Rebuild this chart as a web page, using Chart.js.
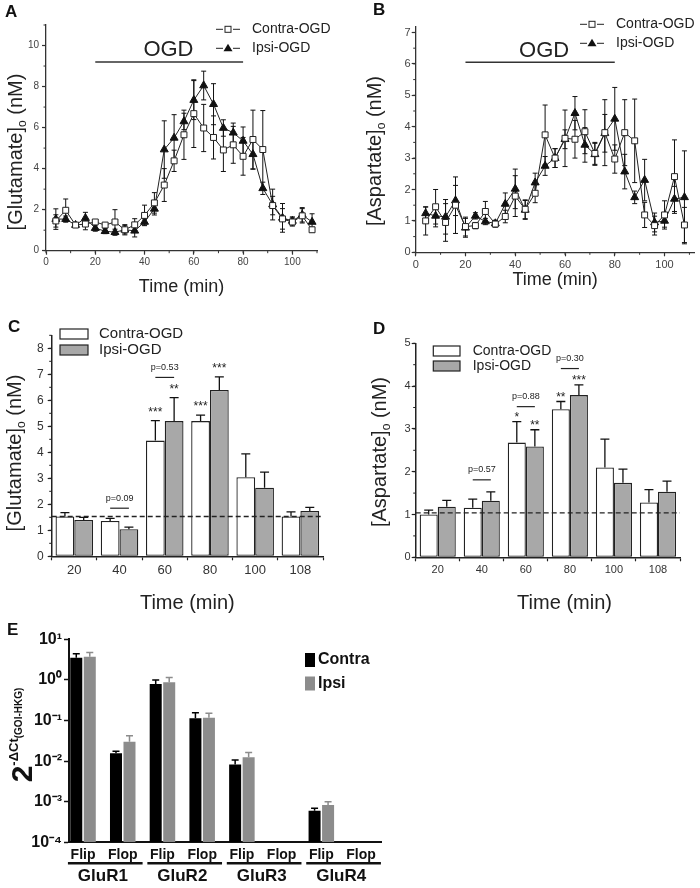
<!DOCTYPE html>
<html>
<head>
<meta charset="utf-8">
<script src="https://cdn.jsdelivr.net/npm/chart.js@4.4.1/dist/chart.umd.min.js"></script>
<style>
html, body { margin: 0; padding: 0; background: #fff; }
#page { position: relative; width: 700px; height: 888px; overflow: hidden;
        font-family: "Liberation Sans", Arial, sans-serif; color: #111; }
canvas { position: absolute; }
.lab { position: absolute; font-weight: bold; font-size: 17px; line-height: 17px; }
.ytitle { position: absolute; white-space: nowrap; font-size: 20px; line-height: 1;
          color: #222; transform: translate(-50%, -50%) rotate(-90deg); }
.ytitle sub { font-size: 12px; vertical-align: -4px; }
</style>
</head>
<body>
<div id="page">
  <canvas id="cA" width="350" height="300" style="left:0;top:0"></canvas>
  <canvas id="cB" width="350" height="300" style="left:350px;top:0"></canvas>
  <canvas id="cC" width="350" height="320" style="left:0;top:300px"></canvas>
  <canvas id="cD" width="350" height="320" style="left:350px;top:300px"></canvas>
  <canvas id="cE" width="480" height="278" style="left:0;top:610px"></canvas>

  <div class="lab" style="left:5px;top:3px">A</div>
  <div class="lab" style="left:373px;top:1px">B</div>
  <div class="lab" style="left:8px;top:318px">C</div>
  <div class="lab" style="left:373px;top:320px">D</div>
  <div class="lab" style="left:7px;top:621px">E</div>

  <div class="ytitle" style="left:16px;top:152px">[Glutamate]<sub>o</sub> (nM)</div>
  <div class="ytitle" style="left:375px;top:151px">[Aspartate]<sub>o</sub> (nM)</div>
  <div class="ytitle" style="left:15px;top:453px">[Glutamate]<sub>o</sub> (nM)</div>
  <div class="ytitle" style="left:380px;top:452px">[Aspartate]<sub>o</sub> (nM)</div>
  <div class="ytitle" style="left:22px;top:735px;font-weight:bold;font-size:30px;color:#111">2<span style="font-size:13px;vertical-align:14px">-ΔCt<span style="font-size:10px;vertical-align:-4px">(GOI-HKG)</span></span></div>
</div>

<script>
'use strict';

const FONT = '"Liberation Sans", Arial, sans-serif';
Chart.defaults.font.family = FONT;
Chart.defaults.color = '#333';

// ── data: microdialysis time course (A, B) ───────────────────
const timePts = [4, 8, 12, 16, 20, 24, 28, 32, 36, 40, 44, 48, 52, 56, 60, 64, 68, 72, 76, 80, 84, 88, 92, 96, 100, 104, 108];

const gluContra    = [1.45, 1.97, 1.25, 1.30, 1.40, 1.25, 1.40, 1.02, 1.26, 1.72, 2.33, 3.20, 4.38, 5.65, 6.68, 5.98, 5.52, 4.91, 5.16, 4.60, 5.42, 4.93, 2.20, 1.55, 1.40, 1.70, 1.02];
const gluContraErr = [0.30, 0.55, 0.10, 0.28, 0.12, 0.12, 0.60, 0.25, 0.30, 0.50, 0.50, 0.80, 0.52, 1.20, 1.65, 1.15, 1.05, 1.05, 0.90, 0.92, 1.43, 1.90, 0.45, 0.50, 0.20, 0.35, 0.12];
const gluIpsi      = [1.54, 1.54, 1.25, 1.59, 1.10, 0.95, 0.90, 1.02, 0.97, 1.40, 2.04, 4.93, 5.50, 6.30, 7.34, 8.05, 7.14, 5.98, 5.75, 5.35, 4.70, 3.04, 2.25, 1.60, 1.45, 1.75, 1.40];
const gluIpsiErr   = [0.50, 0.15, 0.10, 0.28, 0.15, 0.12, 0.15, 0.20, 0.30, 0.15, 0.30, 1.40, 1.13, 0.40, 0.95, 0.70, 1.00, 0.40, 0.47, 0.68, 0.73, 0.30, 0.75, 0.70, 0.20, 0.35, 0.40];

const aspContra    = [1.00, 1.45, 0.95, 1.50, 0.82, 0.85, 1.30, 0.90, 1.14, 1.79, 1.37, 1.88, 3.74, 3.00, 3.63, 3.60, 3.84, 3.15, 3.81, 2.97, 3.81, 3.55, 1.19, 0.85, 1.19, 2.41, 0.87];
const aspContraErr = [0.45, 0.55, 0.60, 0.90, 0.30, 0.10, 0.32, 0.10, 0.20, 0.65, 0.30, 0.30, 0.95, 0.30, 0.90, 0.60, 0.70, 0.35, 1.05, 0.45, 1.05, 1.33, 0.40, 0.30, 0.45, 1.17, 0.56];
const aspIpsi      = [1.24, 1.16, 1.13, 1.65, 0.78, 1.16, 0.98, 0.92, 1.54, 2.02, 1.35, 2.22, 2.75, 3.00, 3.60, 4.43, 3.42, 3.12, 3.79, 4.25, 2.57, 1.75, 2.30, 0.95, 1.00, 1.70, 1.75];
const aspIpsiErr   = [0.20, 0.35, 0.55, 0.48, 0.30, 0.10, 0.10, 0.10, 0.35, 0.63, 0.30, 0.30, 0.30, 0.30, 0.30, 0.53, 0.55, 0.35, 0.60, 1.00, 0.55, 0.20, 0.66, 0.30, 0.20, 0.40, 1.48];

const ogdWindow = [20, 80];      // min
const ogdLevelA = 9.2;           // nM, height of the OGD bar in A
const ogdLevelB = 6.05;          // nM, height of the OGD bar in B

// ── data: binned means (C, D) ────────────────────────────────
const timeCats = ['20', '40', '60', '80', '100', '108'];

const gluMeanContra    = [1.53, 1.36, 4.45, 5.20, 3.04, 1.53];
const gluMeanContraErr = [0.15, 0.10, 0.77, 0.23, 0.90, 0.18];
const gluMeanIpsi      = [1.40, 1.04, 5.20, 6.40, 2.64, 1.74];
const gluMeanIpsiErr   = [0.10, 0.08, 0.90, 0.50, 0.60, 0.14];
const gluBaseline      = 1.53;

const aspMeanContra    = [1.00, 1.16, 2.68, 3.46, 2.10, 1.28];
const aspMeanContraErr = [0.10, 0.20, 0.49, 0.18, 0.66, 0.30];
const aspMeanIpsi      = [1.18, 1.32, 2.59, 3.79, 1.74, 1.53];
const aspMeanIpsiErr   = [0.15, 0.21, 0.39, 0.24, 0.32, 0.25];
const aspBaseline      = 1.04;

const starsC    = [{ ds: 0, i: 2, text: '***' }, { ds: 1, i: 2, text: '**' }, { ds: 0, i: 3, text: '***' }, { ds: 1, i: 3, text: '***' }];
const bracketsC = [{ i: 1, y: 1.85, text: 'p=0.09' }, { i: 2, y: 6.88, text: 'p=0.53' }];
const starsD    = [{ ds: 0, i: 2, text: '*' }, { ds: 1, i: 2, text: '**' }, { ds: 0, i: 3, text: '**' }, { ds: 1, i: 3, text: '***' }];
const bracketsD = [{ i: 1, y: 1.81, text: 'p=0.57' }, { i: 2, y: 3.52, text: 'p=0.88' }, { i: 3, y: 4.41, text: 'p=0.30' }];

// ── data: AMPA receptor splice variants (E) ──────────────────
const spliceLabels = ['Flip', 'Flop', 'Flip', 'Flop', 'Flip', 'Flop', 'Flip', 'Flop'];
const receptors    = ['GluR1', 'GluR2', 'GluR3', 'GluR4'];
const exprContra    = [3.5, 0.0155, 0.79, 0.113, 0.0083, null, 0.0006, null];
const exprContraErr = [0.9, 0.0019, 0.21, 0.043, 0.0024, null, 0.00009, null];
const exprIpsi      = [3.7, 0.030, 0.87, 0.117, 0.0124, null, 0.00083, null];
const exprIpsiErr   = [1.0, 0.012, 0.27, 0.033, 0.0038, null, 0.00017, null];
const decades       = [1e-4, 1e-3, 1e-2, 1e-1, 1, 10];


// ── plugins ──────────────────────────────────────────────────
function drawErrors(chart, o) {
    const ctx = chart.ctx, ys = chart.scales.y;
    chart.data.datasets.forEach((ds, di) => {
        if (!ds.errors) return;
        const meta = chart.getDatasetMeta(di);
        ctx.save();
        ctx.strokeStyle = ds.errColor || '#111';
        ctx.lineWidth = o.width || 1;
        meta.data.forEach((el, i) => {
            const raw = ds.data[i];
            const v = raw !== null && typeof raw === 'object' ? raw.y : raw;
            const e = ds.errors[i];
            if (v == null || e == null) return;
            const top = ys.getPixelForValue(v + e);
            const bot = o.upOnly ? ys.getPixelForValue(v) : ys.getPixelForValue(v - e);
            const c = o.cap || 3;
            ctx.beginPath();
            ctx.moveTo(el.x, bot); ctx.lineTo(el.x, top);
            ctx.moveTo(el.x - c, top); ctx.lineTo(el.x + c, top);
            if (!o.upOnly) { ctx.moveTo(el.x - c, bot); ctx.lineTo(el.x + c, bot); }
            ctx.stroke();
        });
        ctx.restore();
    });
}

const errorBars = {
    id: 'errorBars',
    beforeDatasetsDraw(chart, args, o) { if (o.behind) drawErrors(chart, o); },
    afterDatasetsDraw(chart, args, o) { if (!o.behind) drawErrors(chart, o); }
};

const minorTicks = {
    id: 'minorTicks',
    afterDraw(chart, args, o) {
        if (!o.x && !o.y) return;
        const ctx = chart.ctx;
        ctx.save();
        ctx.strokeStyle = o.color || '#333';
        ctx.lineWidth = o.width || 1;
        ctx.beginPath();
        if (o.x) {
            const s = chart.scales.x;
            for (let v = s.min; v <= s.max + 1e-9; v += o.x) {
                const px = s.getPixelForValue(v);
                ctx.moveTo(px, s.top); ctx.lineTo(px, s.top + o.len);
            }
        }
        if (o.y) {
            const s = chart.scales.y;
            for (let v = s.min; v <= s.max + 1e-9; v += o.y) {
                const py = s.getPixelForValue(v);
                ctx.moveTo(s.right, py); ctx.lineTo(s.right - o.len, py);
            }
        }
        ctx.stroke();
        ctx.restore();
    }
};

// legend keys drawn where the figure has them
const keys = {
    id: 'keys',
    afterDraw(chart, args, o) {
        if (!o.items) return;
        const ctx = chart.ctx;
        ctx.save();
        ctx.font = o.font;
        ctx.textBaseline = 'middle';
        ctx.textAlign = 'left';
        o.items.forEach((it, k) => {
            const y = o.y + k * o.dy;
            const ds = chart.data.datasets[it.ds];
            ctx.lineWidth = 1.2;
            ctx.strokeStyle = '#222';
            if (it.kind === 'box') {
                ctx.fillStyle = ds.backgroundColor;
                ctx.fillRect(o.x, y - o.bh / 2, o.bw, o.bh);
                if (o.outline) ctx.strokeRect(o.x, y - o.bh / 2, o.bw, o.bh);
            } else {
                const mx = o.x + o.bw / 2;
                ctx.lineWidth = 1;
                ctx.beginPath();
                ctx.moveTo(o.x, y); ctx.lineTo(o.x + 7, y);
                ctx.moveTo(o.x + o.bw - 7, y); ctx.lineTo(o.x + o.bw, y);
                ctx.stroke();
                if (it.kind === 'rect') {
                    ctx.fillStyle = '#fff';
                    ctx.fillRect(mx - 3, y - 3, 6, 6);
                    ctx.strokeRect(mx - 3, y - 3, 6, 6);
                } else {
                    ctx.fillStyle = '#111';
                    ctx.beginPath();
                    ctx.moveTo(mx, y - 4.5); ctx.lineTo(mx + 4.5, y + 3); ctx.lineTo(mx - 4.5, y + 3);
                    ctx.closePath(); ctx.fill();
                }
            }
            ctx.fillStyle = o.color || '#222';
            ctx.fillText(ds.label, o.tx, y);
        });
        ctx.restore();
    }
};

// OGD label, dashed baselines, significance stars and p-value brackets
const notes = {
    id: 'notes',
    afterDatasetsDraw(chart, args, o) {
        const ctx = chart.ctx, xs = chart.scales.x, ys = chart.scales.y, area = chart.chartArea;
        ctx.save();
        ctx.fillStyle = '#222';
        ctx.strokeStyle = '#222';
        (o.texts || []).forEach(t => {
            ctx.font = t.font;
            ctx.textAlign = 'center';
            ctx.textBaseline = 'middle';
            ctx.fillText(t.text, xs.getPixelForValue(t.x), ys.getPixelForValue(t.y));
        });
        if (o.baseline != null) {
            const py = ys.getPixelForValue(o.baseline);
            ctx.setLineDash([5, 3]);
            ctx.lineWidth = 1.3;
            ctx.beginPath(); ctx.moveTo(area.left, py); ctx.lineTo(area.right, py); ctx.stroke();
            ctx.setLineDash([]);
        }
        (o.stars || []).forEach(s => {
            const ds = chart.data.datasets[s.ds];
            const el = chart.getDatasetMeta(s.ds).data[s.i];
            const top = ys.getPixelForValue(ds.data[s.i] + ds.errors[s.i]);
            ctx.font = o.starFont;
            ctx.textAlign = 'center';
            ctx.textBaseline = 'alphabetic';
            ctx.fillText(s.text, el.x, top - o.starGap);
        });
        (o.brackets || []).forEach(b => {
            const a = chart.getDatasetMeta(0).data[b.i], c = chart.getDatasetMeta(1).data[b.i];
            const py = ys.getPixelForValue(b.y);
            ctx.lineWidth = 1.2;
            ctx.beginPath(); ctx.moveTo(a.x, py); ctx.lineTo(c.x, py); ctx.stroke();
            ctx.font = o.pFont;
            ctx.textAlign = 'center';
            ctx.textBaseline = 'middle';
            ctx.fillText(b.text, (a.x + c.x) / 2, py - 10);
        });
        ctx.restore();
    }
};

// underline under each Flip/Flop pair in E
const pairLines = {
    id: 'pairLines',
    afterDraw(chart, args, o) {
        if (!o.groups) return;
        const ctx = chart.ctx, xs = chart.scales.x;
        const y = xs.bottom - 1;
        ctx.save();
        ctx.strokeStyle = '#111';
        ctx.lineWidth = 2.5;
        ctx.beginPath();
        o.groups.forEach((g, k) => {
            ctx.moveTo(xs.getPixelForValue(2 * k + 1 - 0.38), y);
            ctx.lineTo(xs.getPixelForValue(2 * k + 2 + 0.5), y);
        });
        ctx.stroke();
        ctx.restore();
    }
};

const PLUGINS = [errorBars, minorTicks, keys, notes, pairLines];

const tickGrid = (len, color, w) => ({
    display: true, drawOnChartArea: false, drawTicks: true,
    tickLength: len, tickColor: color, tickWidth: w
});


// ── A / B: time course line charts ───────────────────────────
function timeCourse(id, contra, contraErr, ipsi, ipsiErr, ogdLevel, cfg) {
    new Chart(document.getElementById(id), {
        type: 'line',
        plugins: PLUGINS,
        data: {
            datasets: [
                {
                    label: 'Contra-OGD',
                    data: contra.map((v, i) => ({ x: timePts[i], y: v })),
                    errors: contraErr,
                    borderColor: '#222', borderWidth: 1,
                    pointStyle: 'rect', pointRadius: 4.2,
                    pointBackgroundColor: '#fff', pointBorderColor: '#222', pointBorderWidth: 1
                },
                {
                    label: 'Ipsi-OGD',
                    data: ipsi.map((v, i) => ({ x: timePts[i], y: v })),
                    errors: ipsiErr,
                    borderColor: '#222', borderWidth: 1,
                    pointStyle: 'triangle', pointRadius: 4.6,
                    pointBackgroundColor: '#111', pointBorderColor: '#111', pointBorderWidth: 1
                },
                {
                    label: 'OGD',
                    data: ogdWindow.map(t => ({ x: t, y: ogdLevel })),
                    borderColor: '#333', borderWidth: 1.5, pointRadius: 0
                }
            ]
        },
        options: {
            animation: false,
            responsive: false,
            layout: { padding: cfg.padding },
            plugins: {
                legend: { display: false },
                tooltip: { enabled: false },
                errorBars: { behind: true, cap: 2.5, width: 1 },
                minorTicks: { x: 10, y: cfg.minorY, len: 2.5, color: '#333', width: 1 },
                keys: {
                    items: [{ ds: 0, kind: 'rect' }, { ds: 1, kind: 'tri' }],
                    x: cfg.keyX, tx: cfg.keyX + 36, y: cfg.keyY, dy: 19, bw: 24,
                    font: '14px ' + FONT, color: '#222'
                },
                notes: { texts: [{ x: cfg.ogdText[0], y: cfg.ogdText[1], text: 'OGD', font: '22px ' + FONT }] }
            },
            scales: {
                x: {
                    type: 'linear', min: 0, max: cfg.xMax,
                    afterFit: s => { s.height = cfg.xH; },
                    border: { display: true, color: '#333', width: 1.3 },
                    grid: tickGrid(4, '#333', 1.2),
                    ticks: { stepSize: 20, includeBounds: false, padding: 2, color: '#444', font: { size: cfg.tickSize }, maxRotation: 0 },
                    title: { display: true, text: 'Time (min)', color: '#222', font: { size: 18 }, padding: { top: 0, bottom: cfg.titlePad } }
                },
                y: {
                    min: 0, max: cfg.yMax,
                    afterFit: s => { s.width = cfg.yW; },
                    border: { display: true, color: '#333', width: 1.3 },
                    grid: tickGrid(4, '#333', 1.2),
                    ticks: { stepSize: cfg.stepY, includeBounds: false, padding: cfg.yPad, color: '#444', font: { size: cfg.tickSize } }
                }
            }
        }
    });
}

timeCourse('cA', gluContra, gluContraErr, gluIpsi, gluIpsiErr, ogdLevelA, {
    padding: { left: 0, top: 25, right: 33, bottom: 0 },
    xMax: 110, yMax: 11, stepY: 2, minorY: 1,
    xH: 49.3, yW: 46, yPad: 3, titlePad: 2, tickSize: 10,
    keyX: 216, keyY: 29.3, ogdText: [49.7, 9.8]
});

timeCourse('cB', aspContra, aspContraErr, aspIpsi, aspIpsiErr, ogdLevelB, {
    padding: { left: 0, top: 26.2, right: 5.5, bottom: 0 },
    xMax: 112, yMax: 7.2, stepY: 1, minorY: 0.5,
    xH: 47.7, yW: 65.7, yPad: 1, titlePad: 9, tickSize: 11,
    keyX: 230, keyY: 24.3, ogdText: [51.6, 6.42]
});


// ── C / D: binned bar charts ─────────────────────────────────
function binned(id, contra, contraErr, ipsi, ipsiErr, cfg) {
    new Chart(document.getElementById(id), {
        type: 'bar',
        plugins: PLUGINS,
        data: {
            labels: timeCats,
            datasets: [
                {
                    label: 'Contra-OGD', data: contra, errors: contraErr,
                    backgroundColor: '#ffffff', borderColor: '#222', borderWidth: 1.3, borderSkipped: false
                },
                {
                    label: 'Ipsi-OGD', data: ipsi, errors: ipsiErr,
                    backgroundColor: '#a8a8a8', borderColor: '#222', borderWidth: 1.3, borderSkipped: false
                }
            ]
        },
        options: {
            animation: false,
            responsive: false,
            datasets: { bar: { categoryPercentage: cfg.catPct, barPercentage: 1 } },
            layout: { padding: cfg.padding },
            plugins: {
                legend: { display: false },
                tooltip: { enabled: false },
                errorBars: { upOnly: true, cap: 4.5, width: 1.3 },
                minorTicks: { y: 0.5, len: 2.5, color: '#222', width: 1 },
                keys: {
                    items: [{ ds: 0, kind: 'box' }, { ds: 1, kind: 'box' }],
                    x: cfg.keyX, tx: cfg.keyTx, y: cfg.keyY, dy: cfg.keyDy, bw: cfg.keyW, bh: 10,
                    outline: true, font: cfg.keyFont + 'px ' + FONT, color: '#222'
                },
                notes: {
                    baseline: cfg.baseline,
                    stars: cfg.stars, starFont: '12px ' + FONT, starGap: cfg.starGap,
                    brackets: cfg.brackets, pFont: '9px ' + FONT
                }
            },
            scales: {
                x: {
                    afterFit: s => { s.height = cfg.xH; },
                    border: { display: true, color: '#222', width: 1.5 },
                    grid: Object.assign(tickGrid(4, '#222', 1.2), { offset: true }),
                    ticks: { padding: 2, color: '#333', font: { size: cfg.xTick }, maxRotation: 0 },
                    title: { display: true, text: cfg.title, color: '#222', font: { size: 20 }, padding: { top: 0, bottom: 5 } }
                },
                y: {
                    min: 0, max: cfg.yMax,
                    afterFit: s => { s.width = cfg.yW; },
                    border: { display: true, color: '#222', width: 1.5 },
                    grid: tickGrid(4, '#222', 1.2),
                    ticks: { stepSize: 1, includeBounds: false, padding: cfg.yPad, color: '#333', font: { size: cfg.yTick } }
                }
            }
        }
    });
}

binned('cC', gluMeanContra, gluMeanContraErr, gluMeanIpsi, gluMeanIpsiErr, {
    padding: { left: 0, top: 35.3, right: 27, bottom: 0 },
    catPct: 0.83, yMax: 8.5, xH: 63.7, yW: 51.7, yPad: 4, xTick: 13, yTick: 12,
    title: 'Time (min)', baseline: gluBaseline, stars: starsC, starGap: 5, brackets: bracketsC,
    keyX: 60, keyTx: 99, keyY: 34, keyDy: 16, keyW: 28, keyFont: 15
});

binned('cD', aspMeanContra, aspMeanContraErr, aspMeanIpsi, aspMeanIpsiErr, {
    padding: { left: 0, top: 43.3, right: 20, bottom: 0 },
    catPct: 0.82, yMax: 5, xH: 62.7, yW: 65.7, yPad: 1, xTick: 11, yTick: 11,
    title: '      Time (min)', baseline: aspBaseline, stars: starsD, starGap: 1, brackets: bracketsD,
    keyX: 83.3, keyTx: 122.7, keyY: 51, keyDy: 15, keyW: 26.7, keyFont: 14
});


// ── E: log-scale expression bars ─────────────────────────────
const SUP = { '-': '⁻', '0': '⁰', '1': '¹', '2': '²', '3': '³', '4': '⁴' };
const sup = n => String(n).split('').map(c => SUP[c]).join('');

new Chart(document.getElementById('cE'), {
    type: 'bar',
    plugins: PLUGINS,
    data: {
        datasets: [
            {
                label: 'Contra', data: exprContra.map((v, i) => ({ x: i + 1, y: v })),
                errors: exprContraErr, errColor: '#000', backgroundColor: '#000000'
            },
            {
                label: 'Ipsi', data: exprIpsi.map((v, i) => ({ x: i + 1, y: v })),
                errors: exprIpsiErr, errColor: '#8c8c8c', backgroundColor: '#8c8c8c'
            }
        ]
    },
    options: {
        animation: false,
        responsive: false,
        datasets: { bar: { categoryPercentage: 0.68, barPercentage: 0.89 } },
        layout: { padding: { left: 0, top: 29.3, right: 98.3, bottom: 0 } },
        plugins: {
            legend: { display: false },
            tooltip: { enabled: false },
            errorBars: { upOnly: true, cap: 3.5, width: 1.5 },
            keys: {
                items: [{ ds: 0, kind: 'box' }, { ds: 1, kind: 'box' }],
                x: 305, tx: 318, y: 50, dy: 23.5, bw: 10, bh: 14,
                font: 'bold 16px ' + FONT, color: '#111'
            },
            pairLines: { groups: receptors }
        },
        scales: {
            x: {
                type: 'linear', offset: false, min: 0.647, max: 8.52, weight: 0,
                afterFit: s => { s.height = 22; },
                afterBuildTicks: s => { s.ticks = spliceLabels.map((_, i) => ({ value: i + 1 })); },
                border: { display: true, color: '#111', width: 2 },
                grid: { display: false, drawTicks: false },
                ticks: { callback: (v, i) => spliceLabels[i], autoSkip: false, maxRotation: 0, padding: 4,
                         color: '#111', font: { size: 14, weight: 'bold' } }
            },
            x2: {
                type: 'linear', position: 'bottom', offset: false, min: 0.647, max: 8.52, weight: 1,
                afterFit: s => { s.height = 23.7; },
                afterBuildTicks: s => { s.ticks = receptors.map((_, g) => ({ value: 2 * g + 1.5 })); },
                border: { display: false },
                grid: { display: false, drawTicks: false },
                ticks: { callback: (v, i) => receptors[i], autoSkip: false, maxRotation: 0, padding: 2,
                         color: '#111', font: { size: 17, weight: 'bold' } }
            },
            y: {
                type: 'logarithmic', min: 1e-4, max: 10,
                afterFit: s => { s.width = 69; },
                afterBuildTicks: s => { s.ticks = decades.map(v => ({ value: v })); },
                border: { display: true, color: '#111', width: 2 },
                grid: tickGrid(5, '#111', 1.5),
                ticks: { callback: v => '10' + sup(Math.round(Math.log10(v))), padding: 2,
                         color: '#111', font: { size: 16, weight: 'bold' } }
            }
        }
    }
});
</script>
</body>
</html>
